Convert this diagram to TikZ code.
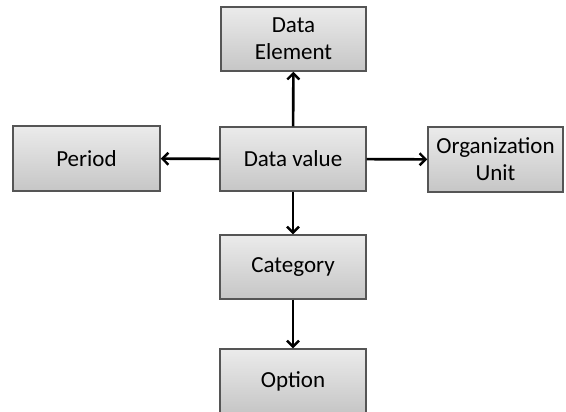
\documentclass[tikz,border=0pt]{standalone}
\usepackage{fontspec}
\setmainfont{Carlito}
\usetikzlibrary{arrows.meta,shadows}
\definecolor{boxtop}{HTML}{EBEBEB}
\definecolor{boxbottom}{HTML}{C6C6C6}
\definecolor{boxborder}{HTML}{555555}

\begin{document}
\begin{tikzpicture}[
  x=1pt, y=-1pt,
  link/.style={draw=black, line width=2.6pt, -{Straight Barb[length=6pt, width=12pt, line width=2.4pt]}},
  partbox/.style 2 args={rectangle, draw=boxborder, line width=1.4pt, top color=boxtop, bottom color=boxbottom,
    drop shadow={shadow xshift=1.2pt, shadow yshift=-1.2pt, fill=black!35, opacity=0.5},
    align=center, minimum width=#1, minimum height=#2, inner sep=0pt,
    font=\fontsize{23}{27}\selectfont}
]
  \useasboundingbox (0,0) rectangle (566,412);

  % Boxes
  \node[partbox={145pt}{64pt}] (element) at (293.5, 39) {Data\\Element};
  \node[partbox={146pt}{64pt}] (value) at (293, 159) {Data value};
  \node[partbox={147pt}{65pt}] (period) at (86.5, 158.5) {Period};
  \node[partbox={135pt}{65pt}] (orgunit) at (495.5, 159.5) {Organization\\Unit};
  \node[partbox={146pt}{64pt}] (category) at (293, 267) {Category};
  \node[partbox={146pt}{64pt}] (option) at (293, 381) {Option};

  % Links
  \draw[link] (value) -- (element);
  \draw[link] (value) -- (period);
  \draw[link] (value) -- (orgunit);
  \draw[link] (value) -- (category);
  \draw[link] (category) -- (option);

\end{tikzpicture}
\end{document}
